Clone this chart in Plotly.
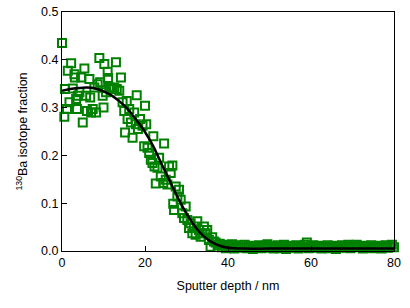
import plotly.graph_objects as go

# Measured points: transition region (x, y)
head_x = [0.0, 0.56, 0.7, 1.2, 1.4, 1.8, 2.2, 2.6, 3.0, 3.1, 3.4, 3.6, 3.8, 4.2, 4.6, 5.0,
          5.4, 5.8, 6.0, 6.6, 6.8, 7.0, 7.4, 7.8, 8.2, 8.6, 9.0, 9.2, 9.8, 10.0, 10.2, 10.6,
          11.0, 11.1, 11.4, 11.8, 12.2, 12.6, 13.0, 13.2, 13.8, 14.2, 14.6, 15.0, 15.2, 15.6,
          15.8, 16.2, 16.6, 17.0, 17.4, 17.8, 18.0, 18.3, 18.8, 19.4, 19.8, 20.0, 20.3, 20.6,
          21.0, 21.4, 21.8, 22.0, 22.3, 22.6, 23.0, 23.4, 23.8, 24.4, 24.6, 25.0, 25.4, 25.8,
          26.2, 26.6, 26.8, 27.0, 27.4, 27.8, 28.2, 28.6, 29.0, 29.4, 29.8, 30.2, 30.6, 31.0,
          31.4, 31.8, 32.2, 32.6, 33.0, 33.4, 33.8, 34.2, 34.6, 35.0, 35.4, 35.8, 36.2, 36.6]
head_y = [0.435, 0.281, 0.339, 0.297, 0.377, 0.311, 0.393, 0.340, 0.370, 0.363, 0.318, 0.297,
          0.325, 0.332, 0.363, 0.269, 0.382, 0.325, 0.293, 0.360, 0.321, 0.290, 0.297, 0.342,
          0.290, 0.349, 0.404, 0.353, 0.325, 0.300, 0.391, 0.332, 0.375, 0.362, 0.342, 0.339,
          0.339, 0.342, 0.395, 0.339, 0.335, 0.363, 0.311, 0.293, 0.248, 0.314, 0.276, 0.297,
          0.269, 0.237, 0.290, 0.265, 0.326, 0.255, 0.276, 0.262, 0.219, 0.304, 0.265, 0.216,
          0.205, 0.191, 0.184, 0.240, 0.177, 0.141, 0.174, 0.195, 0.156, 0.142, 0.225, 0.149,
          0.139, 0.177, 0.163, 0.179, 0.099, 0.086, 0.135, 0.114, 0.128, 0.107, 0.079, 0.069,
          0.093, 0.065, 0.048, 0.058, 0.037, 0.051, 0.034, 0.062, 0.044, 0.030, 0.037, 0.051,
          0.037, 0.044, 0.023, 0.009, 0.029, 0.020]

# Measured points: baseline tail (x, y)
tail_x = [37.0, 37.5, 38.0, 38.5, 39.0, 39.5, 40.0, 40.5, 41.0, 41.5, 42.0, 42.5, 43.0, 43.5,
          44.0, 44.5, 45.0, 45.5, 46.0, 46.5, 47.0, 47.5, 48.0, 48.5, 49.0, 49.5, 50.0, 50.5,
          51.0, 51.5, 52.0, 52.5, 53.0, 53.5, 54.0, 54.5, 55.0, 55.5, 56.0, 56.5, 57.0, 57.5,
          58.0, 58.5, 59.0, 59.5, 60.0, 60.5, 61.0, 61.5, 62.0, 62.5, 63.0, 63.5, 64.0, 64.5,
          65.0, 65.5, 66.0, 66.5, 67.0, 67.5, 68.0, 68.5, 69.0, 69.5, 70.0, 70.5, 71.0, 71.5,
          72.0, 72.5, 73.0, 73.5, 74.0, 74.5, 75.0, 75.5, 76.0, 76.5, 77.0, 77.5, 78.0, 78.5,
          79.0, 79.5, 80.0]
tail_y = [0.018, 0.012, 0.015, 0.008, 0.013, 0.006, 0.011, 0.009, 0.014, 0.005, 0.010, 0.012,
          0.007, 0.011, 0.013, 0.006, 0.009, 0.011, 0.004, 0.010, 0.008, 0.012, 0.006, 0.009,
          0.011, 0.014, 0.007, 0.010, 0.005, 0.009, 0.012, 0.006, 0.010, 0.013, 0.004, 0.008,
          0.011, 0.007, 0.009, 0.012, 0.005, 0.010, 0.008, 0.013, 0.018, 0.006, 0.010, 0.012,
          0.007, 0.009, 0.011, 0.005, 0.010, 0.008, 0.012, 0.006, 0.009, 0.011, 0.004, 0.010,
          0.008, 0.012, 0.007, 0.010, 0.013, 0.006, 0.009, 0.011, 0.013, 0.008, 0.010, 0.005,
          0.011, 0.009, 0.007, 0.012, 0.006, 0.010, 0.008, 0.011, 0.005, 0.009, 0.012, 0.007,
          0.010, 0.013, 0.008]

# Fitted curve
fit_x = [0, 2, 4, 6, 8, 10, 12, 14, 16, 18, 20, 22, 24, 26, 28, 30, 32, 34, 36, 38, 40, 44,
         50, 60, 70, 80]
fit_y = [0.335, 0.339, 0.341, 0.342, 0.340, 0.334, 0.325, 0.312, 0.295, 0.273, 0.249, 0.219,
         0.182, 0.146, 0.110, 0.078, 0.052, 0.032, 0.019, 0.011, 0.007, 0.005, 0.005, 0.005,
         0.005, 0.005]

x_ticks = [0, 20, 40, 60, 80]
y_ticks = [0.0, 0.1, 0.2, 0.3, 0.4, 0.5]

green = "#008000"
FONT = "Liberation Sans, Arial, sans-serif"

fig = go.Figure()
fig.add_trace(go.Scatter(
    x=head_x + tail_x, y=head_y + tail_y, mode="markers",
    marker=dict(symbol="square-open", size=8, color=green, line=dict(width=2, color=green)),
    cliponaxis=False, showlegend=False))
fig.add_trace(go.Scatter(
    x=fit_x, y=fit_y, mode="lines", line=dict(color="black", width=2.5, shape="spline"),
    showlegend=False))

axis_common = dict(showline=True, linecolor="black", linewidth=1, mirror=True,
                   ticks="inside", ticklen=5, tickcolor="black", showgrid=False,
                   zeroline=False, automargin=False,
                   tickfont=dict(family=FONT, size=12.5, color="black"))

fig.update_layout(
    width=410, height=308,
    margin=dict(l=62, r=16, t=12, b=57),
    paper_bgcolor="white", plot_bgcolor="white",
    font=dict(family=FONT, size=12.5, color="black"),
    xaxis=dict(range=[0, 80], tickvals=x_ticks, ticktext=[str(v) for v in x_ticks],
               title=dict(text="Sputter depth / nm", font=dict(size=12.5), standoff=12),
               **axis_common),
    yaxis=dict(range=[0, 0.5], tickvals=y_ticks, ticktext=[f"{v:.1f}" for v in y_ticks],
               title=dict(text="<sup>130</sup>Ba isotope fraction", font=dict(size=12.5),
                          standoff=10),
               **axis_common),
)

fig.write_html("out.html", config={"displayModeBar": False},
               post_script="document.body.style.margin='0';")
